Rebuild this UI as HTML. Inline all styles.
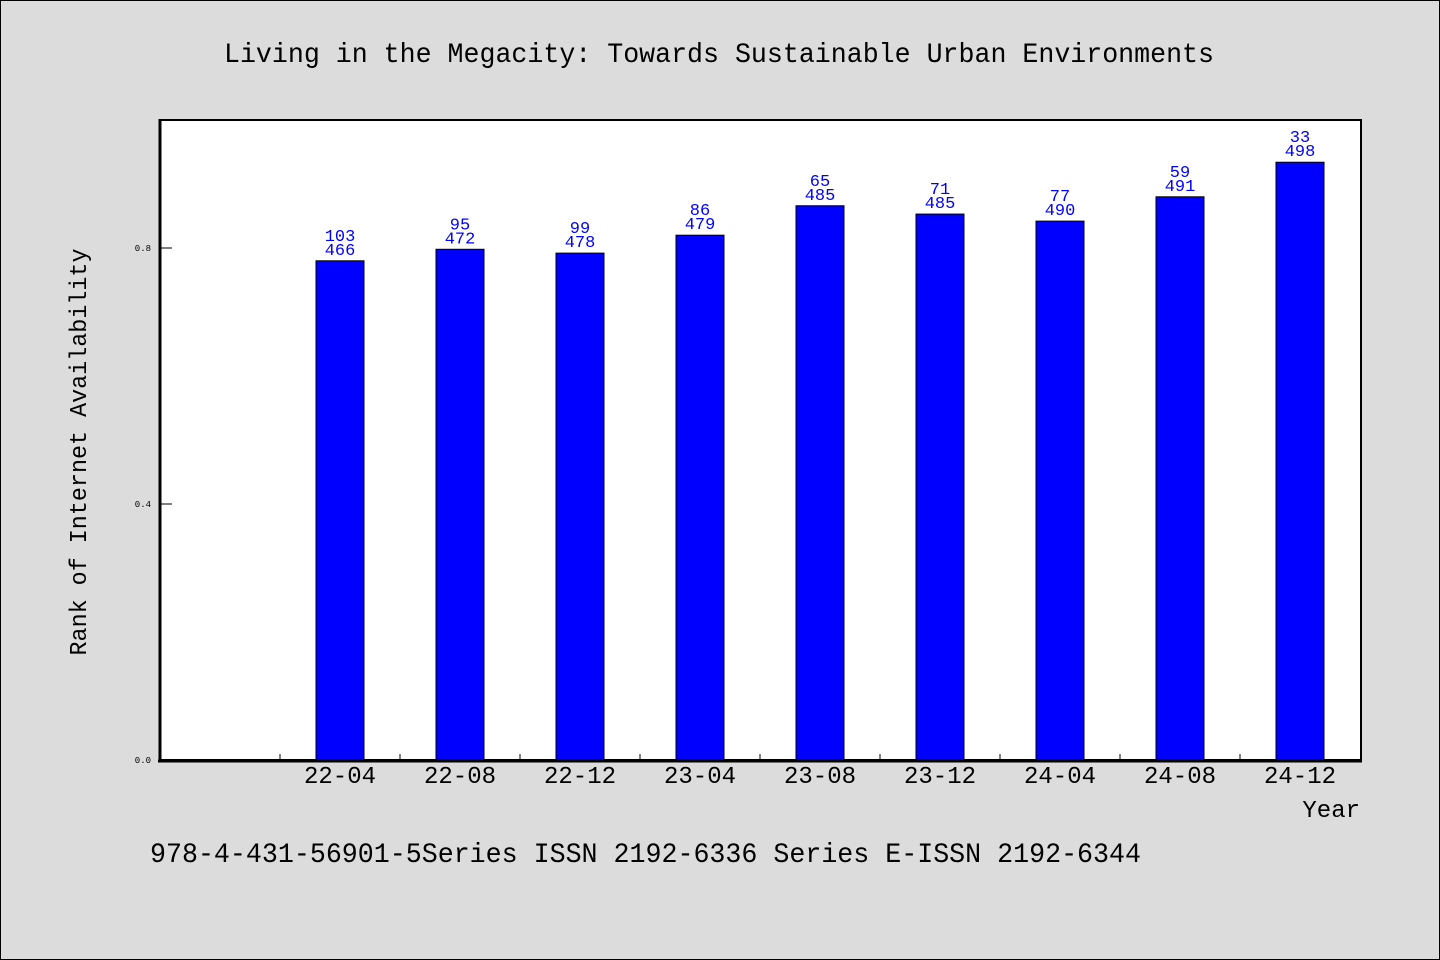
<!DOCTYPE html>
<html><head><meta charset="utf-8"><style>
html,body{margin:0;padding:0;background:#dcdcdc;}
svg{display:block;font-family:"WenQuanYi Zen Hei","Liberation Mono",monospace;}
</style></head><body>
<svg id="chart" width="1440" height="960" viewBox="0 0 1440 960">
<rect x="0.5" y="0.5" width="1439" height="959" fill="#dcdcdc" stroke="#000"/>
<text x="719" y="62" font-size="28" text-anchor="middle" textLength="990" lengthAdjust="spacingAndGlyphs">Living in the Megacity: Towards Sustainable Urban Environments</text>
<rect x="160" y="120" width="1201" height="640" fill="#fff"/>
<g id="bars"></g>
<g id="axes"></g>
<text transform="translate(86,452) rotate(-90)" font-size="24" text-anchor="middle" textLength="407" lengthAdjust="spacingAndGlyphs">Rank of Internet Availability</text>
<text x="1360" y="817" font-size="24" text-anchor="end">Year</text>
<text x="150" y="862" font-size="28" textLength="991" lengthAdjust="spacingAndGlyphs">978-4-431-56901-5Series ISSN 2192-6336 Series E-ISSN 2192-6344</text>
</svg>
<script>
const categories = ["22-04","22-08","22-12","23-04","23-08","23-12","24-04","24-08","24-12"];
const values = [0.780,0.798,0.792,0.820,0.866,0.853,0.842,0.880,0.934];
const topLabels = ["103","95","99","86","65","71","77","59","33"];
const bottomLabels = ["466","472","478","479","485","485","490","491","498"];
const yTicks = [0.0,0.4,0.8];
const yTickLabels = ["0.0","0.4","0.8"];

const NS="http://www.w3.org/2000/svg";
const X0=160,X1=1361,Y0=760,Y1=120,slot=120;
const y=v=>Y0-(v/1.0)*(Y0-Y1);
const xc=i=>X0+slot*(i+1)+slot/2;
function mk(t,a,p){const e=document.createElementNS(NS,t);for(const k in a)e.setAttribute(k,a[k]);p.appendChild(e);return e;}
const bars=document.getElementById('bars'),axes=document.getElementById('axes');
categories.forEach((c,i)=>{
  const r=mk('rect',{x:xc(i)-24,y:y(values[i]),width:48,height:Y0-y(values[i]),fill:'#0000ff',stroke:'#000','stroke-width':1},bars);
  
  
  const t1=mk('text',{x:xc(i),y:y(values[i])-20,'font-size':17,fill:'#0000ff','text-anchor':'middle'},bars);
  t1.textContent=topLabels[i];
  
  
  const t2=mk('text',{x:xc(i),y:y(values[i])-6,'font-size':17,fill:'#0000ff','text-anchor':'middle'},bars);
  t2.textContent=bottomLabels[i];
  
  
  const xl=mk('text',{x:xc(i),y:783,'font-size':24,'text-anchor':'middle'},axes);
  xl.textContent=c;
  
  
});
for(let k=1;k<=categories.length;k++){
  const tk=mk('line',{x1:X0+slot*k,x2:X0+slot*k,y1:Y0,y2:Y0-6,stroke:'#000','stroke-width':1},axes);
  
  
}
yTicks.forEach((v,i)=>{
  const tk=mk('line',{x1:X0,x2:X0+12,y1:y(v),y2:y(v),stroke:'#000','stroke-width':1},axes);
  
  
  const tl=mk('text',{x:151,y:y(v)+3,'font-size':9,'text-anchor':'end'},axes);
  tl.textContent=yTickLabels[i];
  
  
});
const fr=mk('rect',{x:160,y:120,width:1201,height:640,fill:'none',stroke:'#000','stroke-width':2},axes);


const ya=mk('line',{x1:160,x2:160,y1:119,y2:762,stroke:'#000','stroke-width':3},axes);


const xa=mk('line',{x1:158,x2:1362,y1:761,y2:761,stroke:'#000','stroke-width':3},axes);


</script>
</body></html>
